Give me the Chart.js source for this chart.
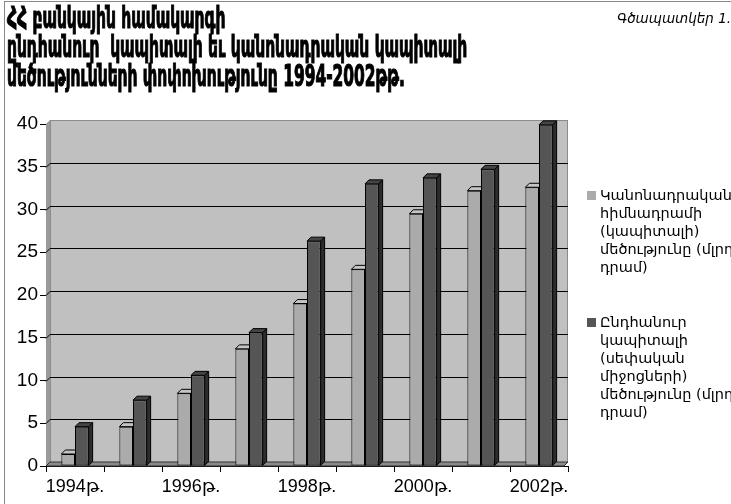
<!DOCTYPE html>
<html>
<head>
<meta charset="utf-8">
<script src="https://cdn.jsdelivr.net/npm/chart.js@4/dist/chart.umd.min.js"></script>
<style>
  html, body { margin: 0; padding: 0; background: #fff; }
  #frame { position: relative; width: 731px; height: 504px; overflow: hidden; }
  #border { position: absolute; left: 4px; top: 1px; width: 800px; height: 600px; border-left: 1px solid #888; border-top: 1px solid #888; }
  #title { position: absolute; left: 7px; top: 3px; font: bold 31px 'DejaVu Sans Condensed', 'DejaVu Sans', sans-serif; line-height: 29px; white-space: pre; transform-origin: 0 0; -webkit-text-stroke: 1.2px #000; }
  #caption { position: absolute; left: 617px; top: 10px; font: italic 13.5px 'DejaVu Sans', sans-serif; white-space: nowrap; }
  #legend { position: absolute; left: 587px; top: 186px; font: 14.5px 'DejaVu Sans', sans-serif; line-height: 18px; white-space: nowrap; }
  .entry { position: relative; padding-left: 13px; margin-bottom: 37px; }
  .swatch { position: absolute; left: 0; top: 5px; width: 9px; height: 9px; }
  canvas { position: absolute; left: 0; top: 0; }
</style>
</head>
<body>
<div id="frame">
  <div id="border"></div>
  <canvas id="chart" width="731" height="504"></canvas>
  <div id="title"></div>
  <div id="caption"></div>
  <div id="legend"></div>
</div>
<script>
const titleLines = [
  'ՀՀ բանկային համակարգի',
  'ընդհանուր  կապիտալի եւ կանոնադրական կապիտալի',
  'մեծությունների փոփոխությունը 1994-2002թթ.'
];
const caption = 'Գծապատկեր 1.';

const years = ['1994թ.', '1995թ.', '1996թ.', '1997թ.', '1998թ.', '1999թ.', '2000թ.', '2001թ.', '2002թ.'];
// billions of drams
const charterCapital = [1.4, 4.6, 8.5, 13.7, 19.0, 23.0, 29.5, 32.2, 32.6];
const totalCapital = [4.6, 7.7, 10.6, 15.6, 26.3, 33.0, 33.7, 34.7, 39.9];

const charterLabel = ['Կանոնադրական', 'հիմնադրամի', '(կապիտալի)', 'մեծությունը (մլրդ', 'դրամ)'];
const totalLabel = ['Ընդհանուր', 'կապիտալի', '(սեփական', 'միջոցների)', 'մեծությունը (մլրդ', 'դրամ)'];

const yMax = 40;
const yStep = 5;

const colors = {
  light: '#ababab', lightSide: '#7a7a7a', lightTop: '#c4c4c4',
  dark: '#555555', darkSide: '#2c2c2c', darkTop: '#444444',
  wall: '#c0c0c0', sideWall: '#9a9a9a', floor: '#8a8a8a'
};
const depth = { dx: 4, dy: -4 };

// html texts
const titleEl = document.getElementById('title');
titleEl.textContent = titleLines.join('\n');
document.getElementById('caption').textContent = caption;
const legendEl = document.getElementById('legend');
[[charterLabel, colors.light], [totalLabel, colors.dark]].forEach(([lines, color]) => {
  const div = document.createElement('div');
  div.className = 'entry';
  div.innerHTML = `<span class="swatch" style="background:${color}"></span>` + lines.join('<br>');
  legendEl.appendChild(div);
});
// squeeze the heavy title into its original width
const wantWidth = 460;
titleEl.style.transform = `scaleX(${wantWidth / titleEl.scrollWidth})`;

const wallPlugin = {
  id: 'wall3d',
  beforeDatasetsDraw(chart) {
    const { ctx, chartArea: a, scales: { y } } = chart;
    const { dx, dy } = depth;
    ctx.save();
    // back wall
    ctx.fillStyle = colors.wall;
    ctx.fillRect(a.left + dx, a.top + dy, a.right - a.left - dx, a.bottom - a.top);
    ctx.strokeStyle = '#8c8c8c';
    ctx.lineWidth = 1;
    ctx.strokeRect(a.left + dx + 0.5, a.top + dy + 0.5, a.right - a.left - dx - 1, a.bottom - a.top);
    // left side wall
    ctx.fillStyle = colors.sideWall;
    ctx.beginPath();
    ctx.moveTo(a.left, a.top);
    ctx.lineTo(a.left + dx, a.top + dy);
    ctx.lineTo(a.left + dx, a.bottom + dy);
    ctx.lineTo(a.left, a.bottom);
    ctx.closePath();
    ctx.fill();
    // gridlines on the back wall
    ctx.strokeStyle = '#000';
    for (let v = yStep; v < yMax; v += yStep) {
      const py = Math.round(y.getPixelForValue(v) + dy) + 0.5;
      ctx.beginPath();
      ctx.moveTo(a.left, py - dy);
      ctx.lineTo(a.left + dx, py);
      ctx.lineTo(a.right, py);
      ctx.stroke();
    }
    // floor
    ctx.fillStyle = colors.floor;
    ctx.beginPath();
    ctx.moveTo(a.left, a.bottom);
    ctx.lineTo(a.right - dx, a.bottom);
    ctx.lineTo(a.right, a.bottom + dy);
    ctx.lineTo(a.left + dx, a.bottom + dy);
    ctx.closePath();
    ctx.fill();
    ctx.strokeStyle = '#333';
    ctx.stroke();

    // side and top faces of bars
    chart.data.datasets.forEach((ds, i) => {
      const side = i === 0 ? colors.lightSide : colors.darkSide;
      const top = i === 0 ? colors.lightTop : colors.darkTop;
      chart.getDatasetMeta(i).data.forEach((bar) => {
        const l = bar.x - bar.width / 2;
        const r = bar.x + bar.width / 2;
        const t = bar.y;
        const b = bar.base;
        ctx.strokeStyle = '#000';
        ctx.fillStyle = side;
        ctx.beginPath();
        ctx.moveTo(r, t);
        ctx.lineTo(r + dx, t + dy);
        ctx.lineTo(r + dx, b + dy);
        ctx.lineTo(r, b);
        ctx.closePath();
        ctx.fill();
        ctx.stroke();
        ctx.fillStyle = top;
        ctx.beginPath();
        ctx.moveTo(l, t);
        ctx.lineTo(l + dx, t + dy);
        ctx.lineTo(r + dx, t + dy);
        ctx.lineTo(r, t);
        ctx.closePath();
        ctx.fill();
        ctx.stroke();
      });
    });
    ctx.restore();
  }
};

new Chart(document.getElementById('chart'), {
  type: 'bar',
  data: {
    labels: years,
    datasets: [
      { label: charterLabel.join(' '), data: charterCapital, backgroundColor: colors.light, borderColor: '#000', borderWidth: 1, borderSkipped: false },
      { label: totalLabel.join(' '), data: totalCapital, backgroundColor: colors.dark, borderColor: '#000', borderWidth: 1, borderSkipped: false },
    ],
  },
  options: {
    responsive: false,
    animation: false,
    layout: { padding: { left: 8, top: 124, right: 163, bottom: 0 } },
    datasets: { bar: { categoryPercentage: 0.47, barPercentage: 1 } },
    plugins: { legend: { display: false }, tooltip: { enabled: false } },
    scales: {
      x: {
        afterFit: (s) => { s.height = 38; },
        border: { color: '#000' },
        grid: { offset: true, drawOnChartArea: false, tickLength: 6, color: '#000' },
        ticks: {
          autoSkip: false,
          maxRotation: 0,
          padding: 4,
          color: '#000',
          font: { family: "'Liberation Sans', 'DejaVu Sans', sans-serif", size: 18 },
          callback: (v, i) => (i % 2 === 0 ? years[i] : ''),
        },
      },
      y: {
        min: 0,
        max: yMax,
        afterFit: (s) => { s.width = 38; },
        border: { color: '#000' },
        grid: { drawOnChartArea: false, tickLength: 6, color: '#000' },
        ticks: {
          stepSize: yStep,
          padding: 2,
          color: '#000',
          font: { family: "'Liberation Sans', sans-serif", size: 19 },
        },
      },
    },
  },
  plugins: [wallPlugin],
});
</script>
</body>
</html>
